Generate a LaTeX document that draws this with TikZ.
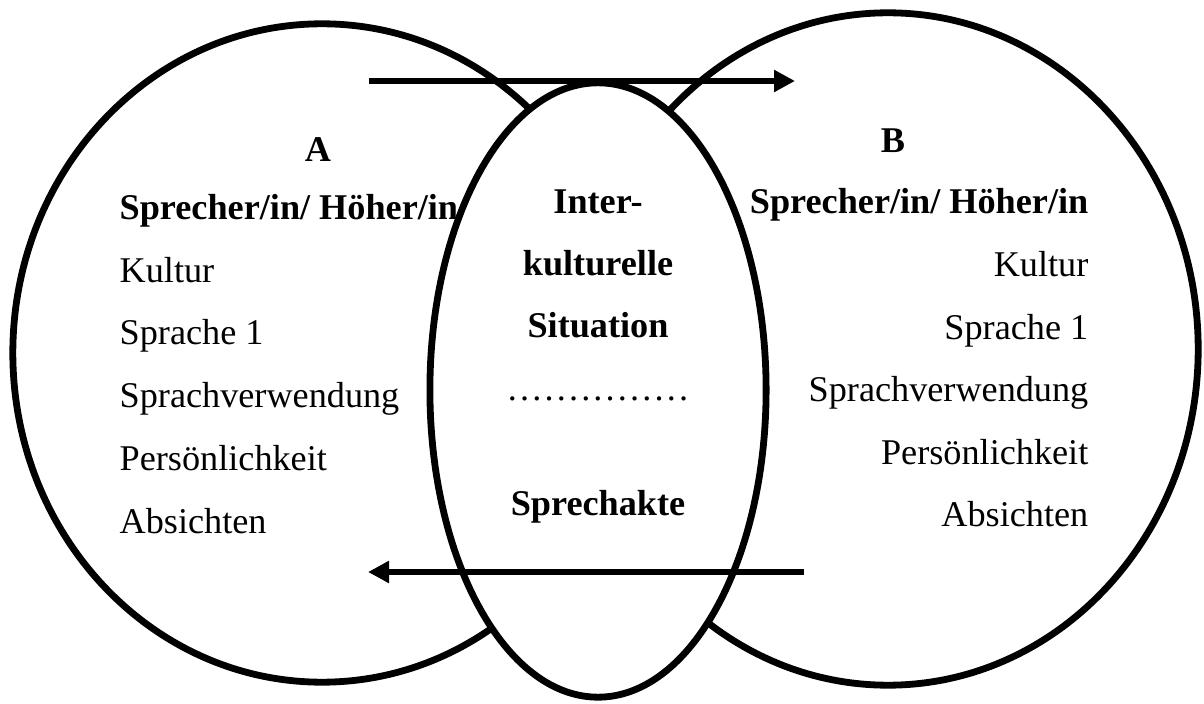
\documentclass[tikz,border=0pt]{standalone}
\usepackage{fontspec}
\setmainfont{Liberation Serif}
\usetikzlibrary{shapes.geometric,arrows.meta}
\newcommand\dotgap{\kern0.9pt}
\newcommand\dotrow{.\dotgap.\dotgap.\dotgap.\dotgap.\dotgap.\dotgap.\dotgap.\dotgap.\dotgap.\dotgap.\dotgap.\dotgap.\dotgap.\dotgap.}
\begin{document}
\begin{tikzpicture}[x=0.01cm,y=-0.01cm,
  ring/.style={ellipse,draw,line width=0.68mm,inner sep=0pt},
  lbl/.style={inner sep=0pt,font=\fontsize{10.3}{12}\selectfont},
  bl/.style={inner sep=0pt,font=\fontsize{10.3}{12}\selectfont\bfseries},
  flow/.style={line width=0.68mm,-{Triangle[length=2.1mm,width=2.1mm]}}]
\useasboundingbox (0,0) rectangle (1204,704);

% the two partners and the shared situation
\node[ring,minimum width=6.18cm,minimum height=6.58cm] (left) at (322,353) {};
\node[ring,minimum width=6.2cm,minimum height=6.72cm] (right) at (888,349) {};
\node[ring,fill=white,minimum width=3.36cm,minimum height=6.14cm] (mid) at (598,390) {};

% partner A
\node[bl,anchor=base] (a) at (318,162) {A};
\node[bl,anchor=base west] (a1) at (119,220) {Sprecher/in/ Höher/in};
\node[lbl,anchor=base west] (a2) at (119,283) {Kultur};
\node[lbl,anchor=base west] (a3) at (119,345) {Sprache 1};
\node[lbl,anchor=base west] (a4) at (119,408) {Sprachverwendung};
\node[lbl,anchor=base west] (a5) at (119,471) {Persönlichkeit};
\node[lbl,anchor=base west] (a6) at (119,533) {Absichten};

% partner B
\node[bl,anchor=base] (b) at (893,153) {B};
\node[bl,anchor=base east] (b1) at (1089,214) {Sprecher/in/ Höher/in};
\node[lbl,anchor=base east] (b2) at (1089,277) {Kultur};
\node[lbl,anchor=base east] (b3) at (1089,340) {Sprache 1};
\node[lbl,anchor=base east] (b4) at (1089,402) {Sprachverwendung};
\node[lbl,anchor=base east] (b5) at (1089,464) {Persönlichkeit};
\node[lbl,anchor=base east] (b6) at (1089,526) {Absichten};

% intercultural situation
\node[bl,anchor=base] (m1) at (598,214) {Inter-};
\node[bl,anchor=base] (m2) at (598,276) {kulturelle};
\node[bl,anchor=base] (m3) at (598,338) {Situation};
\node[lbl,anchor=base] (m4) at (598,400) {\dotrow};
\node[bl,anchor=base] (m5) at (598,515) {Sprechakte};

% exchange arrows
\coordinate (t0) at (369,81);
\coordinate (t1) at (795,81);
\draw[flow] (t0) -- (t1);
\coordinate (r0) at (804,572);
\coordinate (r1) at (368,572);
\draw[flow] (r0) -- (r1);
\end{tikzpicture}
\end{document}
